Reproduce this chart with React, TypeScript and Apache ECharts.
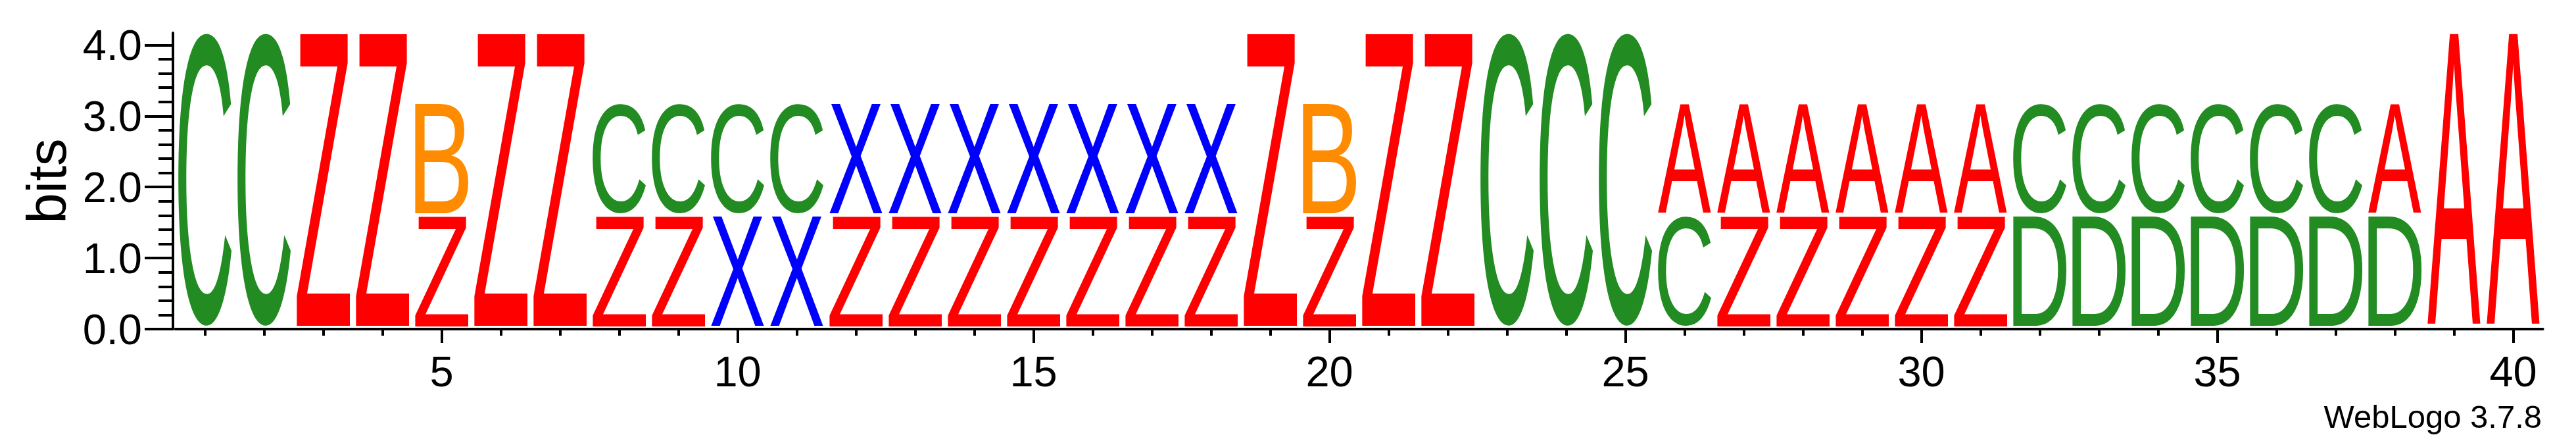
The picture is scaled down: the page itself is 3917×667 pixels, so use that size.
import React, { useEffect, useRef } from 'react';
import * as echarts from 'echarts';

const POSITIONS = [1, 2, 3, 4, 5, 6, 7, 8, 9, 10, 11, 12, 13, 14, 15, 16, 17, 18, 19, 20,
  21, 22, 23, 24, 25, 26, 27, 28, 29, 30, 31, 32, 33, 34, 35, 36, 37, 38, 39, 40];
const LOWER_LETTERS = ['C', 'C', 'Z', 'Z', 'Z', 'Z', 'Z', 'Z', 'Z', 'X', 'X', 'Z', 'Z', 'Z', 'Z', 'Z', 'Z', 'Z', 'Z', 'Z',
  'Z', 'Z', 'C', 'C', 'C', 'C', 'Z', 'Z', 'Z', 'Z', 'Z', 'D', 'D', 'D', 'D', 'D', 'D', 'D', 'A', 'A'];
const LOWER_BITS = [4.16, 4.16, 4.16, 4.16, 1.586, 4.16, 4.16, 1.586, 1.586, 1.586, 1.586, 1.586, 1.586, 1.586, 1.586, 1.586, 1.586, 1.586, 4.16, 1.586,
  4.16, 4.16, 4.16, 4.16, 4.16, 1.586, 1.586, 1.586, 1.586, 1.586, 1.586, 1.586, 1.586, 1.586, 1.586, 1.586, 1.586, 1.586, 4.16, 4.16];
const UPPER_LETTERS = ['', '', '', '', 'B', '', '', 'C', 'C', 'C', 'C', 'X', 'X', 'X', 'X', 'X', 'X', 'X', '', 'B',
  '', '', '', '', '', 'A', 'A', 'A', 'A', 'A', 'A', 'C', 'C', 'C', 'C', 'C', 'C', 'A', '', ''];
const UPPER_BITS = [0, 0, 0, 0, 1.586, 0, 0, 1.586, 1.586, 1.586, 1.586, 1.586, 1.586, 1.586, 1.586, 1.586, 1.586, 1.586, 0, 1.586,
  0, 0, 0, 0, 0, 1.586, 1.586, 1.586, 1.586, 1.586, 1.586, 1.586, 1.586, 1.586, 1.586, 1.586, 1.586, 1.586, 0, 0];
const X_LABELS = [5, 10, 15, 20, 25, 30, 35, 40];
const Y_TICKS = [0, 1, 2, 3, 4];
const Y_MINOR = [0.2, 0.4, 0.6, 0.8, 1.2, 1.4, 1.6, 1.8, 2.2, 2.4, 2.6, 2.8, 3.2, 3.4, 3.6, 3.8];
const Y_MAX = 4.17;

const LETTER_COLORS: Record<string, string> = {
  A: '#ff0000', Z: '#ff0000', C: '#228b22', D: '#228b22', B: '#ff8c00', X: '#0000ff',
};

const FONT_FAMILY = '"Liberation Sans", Arial, Helvetica, sans-serif';
const GLYPH_SIZE = 200;
const HALF_WIDTH = 0.45;
const GLYPH_GAP = 4.5;

type Glyph = { pos: number; y0: number; y1: number; letter: string };
type Metric = { left: number; right: number; asc: number; desc: number };

function buildGlyphs(): Glyph[] {
  const out: Glyph[] = [];
  POSITIONS.forEach((p, i) => {
    const lb = LOWER_BITS[i];
    out.push({ pos: p, y0: 0, y1: lb, letter: LOWER_LETTERS[i] });
    if (UPPER_LETTERS[i]) {
      out.push({ pos: p, y0: lb, y1: lb + UPPER_BITS[i], letter: UPPER_LETTERS[i] });
    }
  });
  return out;
}

function measureFont() {
  const canvas = document.createElement('canvas');
  const ctx = canvas.getContext('2d')!;
  ctx.font = `${GLYPH_SIZE}px ${FONT_FAMILY}`;
  ctx.textAlign = 'left';
  ctx.textBaseline = 'alphabetic';
  const metrics: Record<string, Metric> = {};
  for (const L of ['A', 'B', 'C', 'D', 'X', 'Z']) {
    const m = ctx.measureText(L);
    metrics[L] = {
      left: m.actualBoundingBoxLeft,
      right: m.actualBoundingBoxRight,
      asc: m.actualBoundingBoxAscent,
      desc: m.actualBoundingBoxDescent,
    };
  }
  let central = NaN;
  try {
    const ns = 'http://www.w3.org/2000/svg';
    const svg = document.createElementNS(ns, 'svg');
    svg.setAttribute('width', '600');
    svg.setAttribute('height', '600');
    (svg as any).style.position = 'absolute';
    (svg as any).style.left = '-2000px';
    (svg as any).style.top = '0px';
    const mk = (c: boolean) => {
      const t = document.createElementNS(ns, 'text');
      t.setAttribute('x', '0');
      t.setAttribute('y', '300');
      t.setAttribute('style', `font: ${GLYPH_SIZE}px ${FONT_FAMILY}`);
      if (c) t.setAttribute('dominant-baseline', 'central');
      t.textContent = 'Z';
      svg.appendChild(t);
      return t as SVGTextElement;
    };
    const a = mk(false);
    const c = mk(true);
    document.body.appendChild(svg);
    central = c.getBBox().y - a.getBBox().y;
    document.body.removeChild(svg);
  } catch (e) {
    central = NaN;
  }
  if (!isFinite(central) || central <= 0) central = 0.3465 * GLYPH_SIZE;
  return { metrics, central };
}

export default function App() {
  const ref = useRef<HTMLDivElement>(null);

  useEffect(() => {
    if (!ref.current) return;
    const { metrics, central } = measureFont();
    const glyphs = buildGlyphs();
    const chart = echarts.init(ref.current, null, { renderer: 'svg', width: 3917, height: 667 });

    const axisColor = '#000000';
    const tickStyle = { color: axisColor, width: 4 };

    chart.setOption({
      animation: false,
      backgroundColor: '#ffffff',
      grid: { left: 266.6, right: 50.4, top: 50, bottom: 167, containLabel: false },
      xAxis: [
        {
          type: 'value', min: 0.5, max: 40.5, position: 'bottom',
          axisLine: { show: true, onZero: false, lineStyle: { color: axisColor, width: 4 } },
          axisTick: { show: true, customValues: POSITIONS, length: 10, lineStyle: tickStyle },
          axisLabel: {
            show: true, customValues: X_LABELS, margin: 32, fontSize: 65,
            fontFamily: FONT_FAMILY, color: axisColor, formatter: (v: number) => String(v),
          },
          splitLine: { show: false },
        },
        {
          type: 'value', min: 0.5, max: 40.5, position: 'bottom',
          axisLine: { show: false },
          axisTick: { show: true, customValues: X_LABELS, length: 21, lineStyle: tickStyle },
          axisLabel: { show: false },
          splitLine: { show: false },
        },
      ],
      yAxis: [
        {
          type: 'value', min: 0, max: Y_MAX, position: 'left', offset: 3.6,
          axisLine: { show: true, lineStyle: { color: axisColor, width: 4 } },
          axisTick: { show: true, customValues: Y_TICKS, length: 43, lineStyle: tickStyle },
          axisLabel: {
            show: true, customValues: Y_TICKS, margin: 47, fontSize: 65,
            fontFamily: FONT_FAMILY, color: axisColor, formatter: (v: number) => v.toFixed(1),
          },
          splitLine: { show: false },
          name: 'bits', nameLocation: 'middle', nameRotate: 90, nameGap: 150,
          nameTextStyle: { fontSize: 83, fontFamily: FONT_FAMILY, color: axisColor },
        },
        {
          type: 'value', min: 0, max: Y_MAX, position: 'left', offset: 3.6,
          axisLine: { show: false },
          axisTick: { show: true, customValues: Y_MINOR, length: 22, lineStyle: tickStyle },
          axisLabel: { show: false },
          splitLine: { show: false },
        },
      ],
      graphic: [
        {
          type: 'text', x: 3865, y: 633,
          style: {
            text: 'WebLogo 3.7.8', font: `49px ${FONT_FAMILY}`, fill: '#000000',
            align: 'right', verticalAlign: 'middle',
          },
        },
      ],
      series: [
        {
          type: 'custom',
          coordinateSystem: 'cartesian2d',
          xAxisIndex: 0,
          yAxisIndex: 0,
          silent: true,
          clip: false,
          data: glyphs.map((g) => [g.pos, g.y0, g.y1]),
          renderItem: (params: any, api: any) => {
            const g = glyphs[params.dataIndex];
            const p = api.value(0);
            const lo = api.coord([p - HALF_WIDTH, api.value(1)]);
            const hi = api.coord([p + HALF_WIDTH, api.value(2)]);
            const x0 = lo[0];
            const x1 = hi[0];
            const top = hi[1];
            const bot = lo[1] - GLYPH_GAP;
            const m = metrics[g.letter];
            const sx = (x1 - x0) / (m.left + m.right);
            const sy = (bot - top) / (m.asc + m.desc);
            return {
              type: 'text',
              x: x0 + sx * m.left,
              y: top - sy * (central - m.asc),
              scaleX: sx,
              scaleY: sy,
              style: {
                text: g.letter,
                x: 0,
                y: 0,
                font: `${GLYPH_SIZE}px ${FONT_FAMILY}`,
                fill: LETTER_COLORS[g.letter],
                align: 'left',
                verticalAlign: 'middle',
              },
            };
          },
        },
      ],
    });

    return () => {
      chart.dispose();
    };
  }, []);

  return (
    <div
      ref={ref}
      style={{ position: 'absolute', left: 0, top: 0, width: 3917, height: 667, background: '#fff' }}
    />
  );
}
